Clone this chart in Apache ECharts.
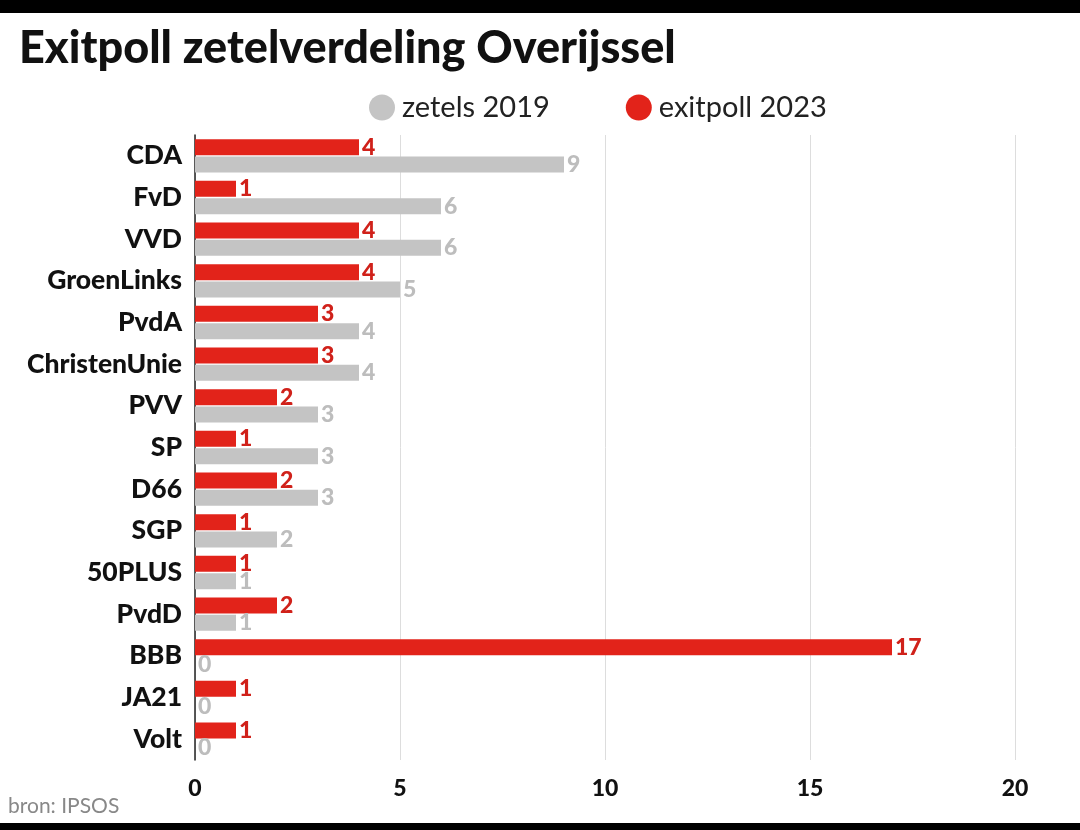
<!DOCTYPE html>
<html><head><meta charset="utf-8">
<script src="https://cdn.jsdelivr.net/npm/echarts@6/dist/echarts.min.js"></script>
<style>html,body{margin:0;padding:0;background:#fff}#c{width:1080px;height:830px}</style>
</head><body><div id="c"></div>
<script>
const categories = ['CDA','FvD','VVD','GroenLinks','PvdA','ChristenUnie','PVV','SP','D66','SGP','50PLUS','PvdD','BBB','JA21','Volt'];
const zetels2019 = [9,6,6,5,4,4,3,3,3,2,1,1,0,0,0];
const exitpoll2023 = [4,1,4,4,3,3,2,1,2,1,1,2,17,1,1];
const xTicks = [0,5,10,15,20];

const RED = '#e2231a', GRAY = '#c4c4c4';
const chart = echarts.init(document.getElementById('c'));
chart.setOption({
  backgroundColor: '#fff',
  animation: false,
  textStyle: { fontFamily: 'Lato' },
  title: {
    text: 'Exitpoll zetelverdeling Overijssel',
    left: 14, top: 21,
    textStyle: { fontFamily: 'Lato', fontWeight: 900, fontSize: 45, color: '#111' }
  },
  legend: {
    data: ['zetels 2019', 'exitpoll 2023'],
    left: 364, top: 88,
    icon: 'circle', itemWidth: 26, itemHeight: 26, itemGap: 76,
    textStyle: { fontFamily: 'Lato', fontSize: 29, color: '#222', padding: [0,0,0,2] }
  },
  grid: { left: 195, right: 65, top: 135, bottom: 70, containLabel: false },
  xAxis: {
    type: 'value', min: 0, max: 20, interval: 5,
    axisLine: { show: false }, axisTick: { show: false },
    splitLine: { lineStyle: { color: '#dddddd', width: 1 } },
    axisLabel: { margin: 17, fontFamily: 'Lato', fontWeight: 900, fontSize: 23, color: '#111',
      formatter: v => xTicks.includes(v) ? String(v) : '' }
  },
  yAxis: {
    type: 'category', data: categories, inverse: true,
    axisLine: { show: true, lineStyle: { color: '#222', width: 1.5 } },
    axisTick: { show: false },
    axisLabel: { margin: 13, fontFamily: 'Lato', fontWeight: 900, fontSize: 26.5, color: '#111' }
  },
  series: [
    {
      name: 'exitpoll 2023', type: 'bar', data: exitpoll2023,
      barWidth: 16, barGap: '8%',
      itemStyle: { color: RED },
      label: { show: true, position: 'right', distance: 3, fontFamily: 'Lato', fontWeight: 900, fontSize: 23, color: '#d0211a' }
    },
    {
      name: 'zetels 2019', type: 'bar', data: zetels2019,
      barWidth: 16,
      itemStyle: { color: GRAY },
      label: { show: true, position: 'right', distance: 3, fontFamily: 'Lato', fontWeight: 900, fontSize: 23, color: '#bdbdbd' }
    }
  ],
  graphic: [
    { type: 'rect', left: 0, top: 0, shape: { width: 1080, height: 13 }, style: { fill: '#000' } },
    { type: 'rect', left: 0, top: 823, shape: { width: 1080, height: 7 }, style: { fill: '#000' } },
    { type: 'text', left: 8, top: 796, style: { text: 'bron: IPSOS', fontFamily: 'Lato', fontSize: 21, fill: '#888' } }
  ]
});
</script></body></html>
